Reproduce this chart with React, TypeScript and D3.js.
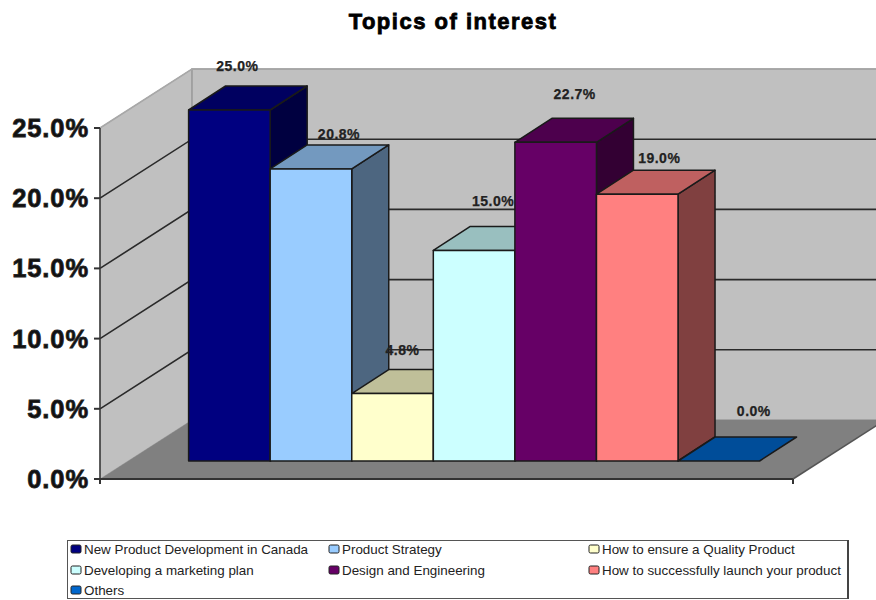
import React from "react";
import * as d3 from "d3";

// Survey results, one bar per topic
const categories = [
  "New Product Development in Canada",
  "Product Strategy",
  "How to ensure a Quality Product",
  "Developing a marketing plan",
  "Design and Engineering",
  "How to successfully launch your product",
  "Others",
];
const values = [25.0, 20.8, 4.8, 15.0, 22.7, 19.0, 0.0];
const barColors = ["#000080", "#99CCFF", "#FFFFCC", "#CCFFFF", "#660066", "#FF8080", "#0066CC"];
const yTicks = [0, 5, 10, 15, 20, 25];

// Where each value label sits relative to the top-front centre of its bar
const labelOffsets: [number, number][] = [
  [8, -39],
  [28, -30],
  [10, -39],
  [19, -44],
  [19, -43],
  [22, -31],
  [35, -45],
];

const W = 876;
const H = 600;
// Oblique projection of the chart box and of the bars
const wallDx = 92;
const wallDy = -59;
const barDx = 37;
const barDy = -24;
const baseLift = 18;

const y = d3.scaleLinear().domain([0, 25]).range([479, 128]);
const x = d3.scaleBand<string>().domain(categories).range([188.6, 759.6]).padding(0);
const axisX = 100;
const floorEndX = 793;

const pct = d3.format(".1f");
const shade = (c: string, k: number) => {
  const r = d3.rgb(c);
  return d3.rgb(r.r * k, r.g * k, r.b * k).formatHex();
};
const poly = (pts: [number, number][]) => d3.line()(pts)! + "Z";

const sans = "'Liberation Sans', Arial, sans-serif";

function Bar({ name, value, color }: { name: string; value: number; color: string }) {
  const x0 = x(name)!;
  const x1 = x0 + x.bandwidth();
  const yb = y(0) - baseLift;
  const yt = y(value) - baseLift;
  const edge = { stroke: "#1a1a1a", strokeWidth: 1.5, strokeLinejoin: "round" as const };
  return (
    <g>
      {value > 0 && (
        <path
          d={poly([[x1, yb], [x1 + barDx, yb + barDy], [x1 + barDx, yt + barDy], [x1, yt]])}
          fill={shade(color, 0.5)}
          {...edge}
        />
      )}
      <path
        d={poly([[x0, yt], [x0 + barDx, yt + barDy], [x1 + barDx, yt + barDy], [x1, yt]])}
        fill={shade(color, 0.75)}
        {...edge}
      />
      {value > 0 && <rect x={x0} y={yt} width={x1 - x0} height={yb - yt} fill={color} {...edge} />}
    </g>
  );
}

const legendCols = [71, 329, 589];
const legendRows = [549, 570, 590];

export default function App() {
  const right = W + 20;
  return (
    <svg
      width={W}
      height={H}
      viewBox={`0 0 ${W} ${H}`}
      style={{ position: "absolute", left: 0, top: 0, background: "#fff" }}
    >
      <text
        x={453}
        y={29}
        textAnchor="middle"
        fontFamily={sans}
        fontWeight="bold"
        fontSize={22}
        stroke="#000"
        strokeWidth={0.8}
        letterSpacing={1.5}
        fill="#000"
      >
        Topics of interest
      </text>

      {/* Walls and floor */}
      <path
        d={poly([[axisX, y(0)], [axisX, y(25)], [axisX + wallDx, y(25) + wallDy], [axisX + wallDx, y(0) + wallDy]])}
        fill="#C0C0C0"
        stroke="#aaa"
        strokeWidth={1}
      />
      <path
        d={poly([[axisX + wallDx, y(25) + wallDy], [right, y(25) + wallDy], [right, y(0) + wallDy], [axisX + wallDx, y(0) + wallDy]])}
        fill="#C0C0C0"
        stroke="#999"
        strokeWidth={1.5}
      />
      <path
        d={poly([[axisX, y(0)], [floorEndX, y(0)], [floorEndX + wallDx, y(0) + wallDy], [axisX + wallDx, y(0) + wallDy]])}
        fill="#808080"
      />

      {/* Gridlines run across the side wall and the back wall */}
      {yTicks.filter((t) => t > 0).map((t) => (
        <path
          key={t}
          d={d3.line()([[axisX, y(t)], [axisX + wallDx, y(t) + wallDy], [right, y(t) + wallDy]])!}
          fill="none"
          stroke={t === 25 ? "#a8a8a8" : "#2a2a2a"}
          strokeWidth={1.6}
        />
      ))}

      {/* Axes */}
      <line x1={axisX} x2={axisX} y1={y(25)} y2={y(0)} stroke="#333" strokeWidth={1.5} />
      <line x1={axisX - 1} x2={floorEndX} y1={y(0)} y2={y(0)} stroke="#333" strokeWidth={2} />
      <line x1={floorEndX} x2={floorEndX + wallDx} y1={y(0)} y2={y(0) + wallDy} stroke="#555" strokeWidth={1.5} />
      <line x1={floorEndX} x2={floorEndX} y1={y(0)} y2={y(0) + 5} stroke="#333" strokeWidth={2} />
      <line x1={axisX} x2={axisX} y1={y(0)} y2={y(0) + 5} stroke="#333" strokeWidth={2} />
      {yTicks.map((t) => (
        <g key={t}>
          <line x1={axisX - 6} x2={axisX} y1={y(t)} y2={y(t)} stroke="#333" strokeWidth={2} />
          <text
            x={89}
            y={y(t) + 9}
            textAnchor="end"
            fontFamily={sans}
            fontWeight="bold"
            fontSize={25.5}
            letterSpacing={0.9}
            stroke="#222"
            strokeWidth={0.8}
            fill="#111"
          >
            {pct(t)}%
          </text>
        </g>
      ))}

      {/* Bars, painted left to right so each one overlaps its neighbour's side */}
      {categories.map((c, i) => (
        <Bar key={c} name={c} value={values[i]} color={barColors[i]} />
      ))}

      {/* Value labels */}
      {categories.map((c, i) => (
        <text
          key={c}
          x={x(c)! + x.bandwidth() / 2 + labelOffsets[i][0]}
          y={y(values[i]) - baseLift + labelOffsets[i][1]}
          textAnchor="middle"
          fontFamily={sans}
          fontWeight="bold"
          fontSize={14}
          letterSpacing={0.5}
          stroke="#222"
          strokeWidth={0.25}
          fill="#222"
        >
          {pct(values[i])}%
        </text>
      ))}

      {/* Legend */}
      <rect x={67.5} y={540.5} width={780} height={58} fill="#fff" stroke="#555" strokeWidth={1} />
      <line x1={848} x2={848} y1={540} y2={599} stroke="#444" strokeWidth={2} />
      {categories.map((c, i) => {
        const lx = legendCols[i % 3];
        const ly = legendRows[Math.floor(i / 3)];
        return (
          <g key={c}>
            <rect x={lx} y={ly - 4} width={10} height={8} rx={1.5} fill={barColors[i]} stroke="#222" strokeWidth={1} />
            <text x={lx + 13} y={ly + 5} fontFamily={sans} fontSize={13.4} fill="#222">
              {c}
            </text>
          </g>
        );
      })}
    </svg>
  );
}
